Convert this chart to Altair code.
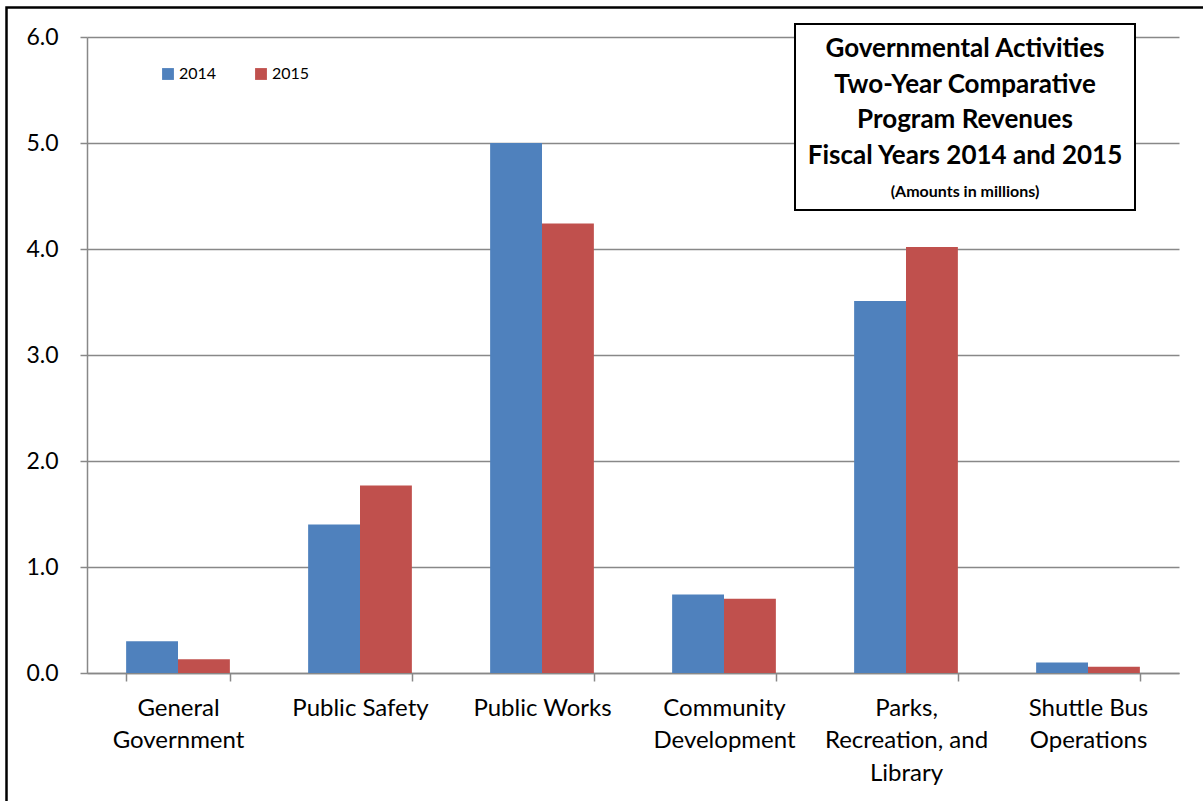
import altair as alt
import pandas as pd

categories = ["General Government", "Public Safety", "Public Works",
              "Community Development", "Parks, Recreation, and Library",
              "Shuttle Bus Operations"]
tick_labels = [["General", "Government"], ["Public Safety"], ["Public Works"],
               ["Community", "Development"], ["Parks,", "Recreation, and", "Library"],
               ["Shuttle Bus", "Operations"]]
years = ["2014", "2015"]
values_2014 = [0.30, 1.40, 5.00, 0.74, 3.51, 0.10]
values_2015 = [0.13, 1.77, 4.24, 0.70, 4.02, 0.06]
title_lines = ["Governmental Activities", "Two-Year Comparative",
               "Program Revenues", "Fiscal Years 2014  and 2015"]
subtitle_line = "(Amounts in millions)"

rows = []
for c, a, b in zip(categories, values_2014, values_2015):
    rows.append({"category": c, "year": "2014", "value": a})
    rows.append({"category": c, "year": "2015", "value": b})
df = pd.DataFrame(rows)

label_map = "{" + ", ".join(
    "'" + c + "': [" + ", ".join("'" + s + "'" for s in lines) + "]"
    for c, lines in zip(categories, tick_labels)) + "}"

FONT = "Lato"
GRAY = "#888888"

bars = alt.Chart(df).mark_bar(strokeWidth=0).encode(
    x=alt.X("category:N", sort=categories, title=None,
            scale=alt.Scale(paddingInner=0.43, paddingOuter=0.215),
            axis=alt.Axis(labelAngle=0, labelExpr=label_map + "[datum.label]",
                          labelLineHeight=32.5, labelBaseline="top",
                          labelFontSize=24, labelFont=FONT, labelColor="#000000",
                          labelPadding=15, tickBand="extent", ticks=True,
                          tickSize=8, tickColor=GRAY, tickWidth=1.5,
                          domainColor=GRAY, domainWidth=1.5, grid=False,
                          labelLimit=300)),
    xOffset=alt.XOffset("year:N", sort=years, scale=alt.Scale(paddingInner=0, paddingOuter=0)),
    y=alt.Y("value:Q", title=None,
            scale=alt.Scale(domain=[0, 6], nice=False),
            axis=alt.Axis(values=[0, 1, 2, 3, 4, 5, 6], format=".1f",
                          labelFontSize=23, labelFont=FONT, labelColor="#000000",
                          labelPadding=22, tickSize=7, tickColor=GRAY, tickWidth=1.5,
                          domainColor=GRAY, domainWidth=1.5,
                          grid=True, gridColor=GRAY, gridWidth=1.5)),
    color=alt.Color("year:N", sort=years,
                    scale=alt.Scale(domain=years, range=["#4F81BD", "#C0504D"]),
                    legend=alt.Legend(title=None, orient="none", direction="horizontal",
                                      legendX=73, legendY=29, symbolType="square",
                                      symbolSize=140, symbolStrokeWidth=0,
                                      symbolOpacity=1,
                                      labelFont=FONT, labelFontSize=16,
                                      labelColor="#000000", labelOffset=3,
                                      columnPadding=36, padding=0)),
)

one = alt.InlineData(values=[{"k": 1}])

box = alt.Chart(one).mark_rect(fill="white", stroke="black", strokeWidth=2).encode(
    x=alt.value(708), x2=alt.value(1048), y=alt.value(-13), y2=alt.value(173))

title_text = alt.Chart(one).mark_text(
    font=FONT, fontSize=26, fontWeight="bold", align="center", baseline="middle",
    lineHeight=35.5, color="black").encode(
    x=alt.value(878), y=alt.value(12), text=alt.value(title_lines))

sub_text = alt.Chart(one).mark_text(
    font=FONT, fontSize=16, fontWeight="bold", align="center", baseline="middle",
    color="black").encode(
    x=alt.value(878), y=alt.value(155), text=alt.value(subtitle_line))

border = alt.Chart(one).mark_rect(fill=None, stroke="black", strokeWidth=2.5).encode(
    x=alt.value(-80.5), x2=alt.value(1200), y=alt.value(-29.5), y2=alt.value(800))

chart = alt.layer(bars, box, title_text, sub_text, border).properties(
    width=1092, height=636,
    autosize=alt.AutoSizeParams(type="none"),
    padding={"left": 87, "top": 37, "right": 24, "bottom": 128},
    background="white",
).configure_view(stroke=None)

chart.save("out.html", embed_options={"renderer": "svg", "actions": False})
